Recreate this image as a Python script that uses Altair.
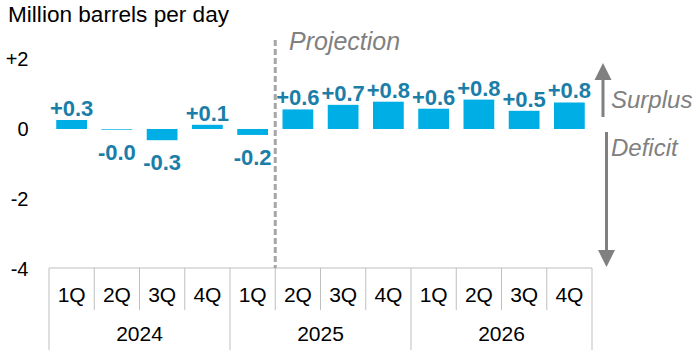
import altair as alt
import pandas as pd

# ---- data ----
years = ["2024"] * 4 + ["2025"] * 4 + ["2026"] * 4
quarters = ["1Q", "2Q", "3Q", "4Q"] * 3
balance = [0.26, -0.02, -0.32, 0.12, -0.17, 0.56, 0.69, 0.78, 0.58, 0.84, 0.52, 0.76]
year_labels = ["2024", "2025", "2026"]
projection_start = "2025-2Q"
y_ticks = [-4, -2, 0, 2]
title_text = "Million barrels per day"

keys = [f"{y}-{q}" for y, q in zip(years, quarters)]
df = pd.DataFrame({"key": keys, "year": years, "quarter": quarters, "value": balance})
df["label"] = [f"{v:+.1f}" for v in balance]
year_df = pd.DataFrame({"year": year_labels, "key": [f"{y}-2Q" for y in year_labels]})
end_df = pd.DataFrame({"key": [keys[-1]]})
proj_df = pd.DataFrame({"key": [projection_start], "text": ["Projection"]})

W, H = 543, 210
FONT = "Liberation Sans"
BAR = "#00AEE6"
LBL = "#1A7EA8"
GREY = "#808080"

xscale = alt.Scale(domain=keys, paddingInner=0, paddingOuter=0)
x_enc = alt.X("key:N", scale=xscale, axis=None)
x_start = alt.X("key:N", scale=xscale, axis=None, bandPosition=0)
x_end = alt.X("key:N", scale=xscale, axis=None, bandPosition=1)

y_axis = alt.Axis(
    values=y_ticks,
    labelExpr="datum.value > 0 ? '+' + datum.value : '' + datum.value",
    ticks=False, domain=False, grid=False, title=None,
    labelFontSize=20, labelFont=FONT, labelColor="#000000",
    labelPadding=21, labelFlush=False, labelOverlap=False,
)
y_enc = alt.Y("value:Q", scale=alt.Scale(domain=[-4, 2], nice=False), axis=y_axis)

bars = alt.Chart(df).mark_bar(color=BAR, width=alt.RelativeBandSize(0.68)).encode(
    x=x_enc, y=y_enc
)

pos_labels = alt.Chart(df).transform_filter("datum.value >= 0").mark_text(
    font=FONT, fontSize=22, fontWeight="bold", color=LBL, baseline="alphabetic", dy=-4
).encode(x=x_enc, y=y_enc, text="label:N")

neg_labels = alt.Chart(df).transform_filter("datum.value < 0").mark_text(
    font=FONT, fontSize=22, fontWeight="bold", color=LBL, baseline="top", dy=13
).encode(x=x_enc, y=y_enc, text="label:N")

# category axis (boxed)
SEP = "#BFBFBF"
AX_TOP = H - 1
axis_line = alt.Chart(end_df).mark_rule(color=SEP, strokeWidth=1).encode(
    x=alt.value(0), x2=alt.value(W), y=alt.value(AX_TOP), y2=alt.value(AX_TOP)
)
q_sep = alt.Chart(df).transform_filter("datum.quarter != '1Q'").mark_rule(
    color=SEP, strokeWidth=1
).encode(x=x_start, y=alt.value(AX_TOP), y2=alt.value(251))
y_sep = alt.Chart(df).transform_filter("datum.quarter == '1Q'").mark_rule(
    color=SEP, strokeWidth=1
).encode(x=x_start, y=alt.value(AX_TOP), y2=alt.value(300))
end_sep = alt.Chart(end_df).mark_rule(color=SEP, strokeWidth=1).encode(
    x=x_end, y=alt.value(AX_TOP), y2=alt.value(300)
)
q_text = alt.Chart(df).mark_text(
    font=FONT, fontSize=21, color="#000000", baseline="middle"
).encode(x=x_enc, y=alt.value(237), text="quarter:N")
yr_text = alt.Chart(year_df).mark_text(
    font=FONT, fontSize=21, color="#000000", baseline="middle"
).encode(x=x_end, y=alt.value(276), text="year:N")

# projection divider
proj_line = alt.Chart(proj_df).mark_rule(
    color="#A6A6A6", strokeWidth=3, strokeDash=[6, 3]
).encode(x=x_start, y=alt.value(-19), y2=alt.value(AX_TOP))
proj_text = alt.Chart(proj_df).mark_text(
    font=FONT, fontSize=25, fontStyle="italic", color=GREY, align="left", baseline="alphabetic"
).encode(x=alt.value(240), y=alt.value(-9), text="text:N")

# title
title = alt.Chart(pd.DataFrame({"text": [title_text]})).mark_text(
    font=FONT, fontSize=22.6, color="#000000", align="left", baseline="alphabetic"
).encode(x=alt.value(-41), y=alt.value(-37), text="text:N")

# surplus / deficit arrows
ann = pd.DataFrame({"text": ["Surplus", "Deficit"], "ypx": [49, 97]})
ann_text = alt.Chart(ann).mark_text(
    font=FONT, fontSize=24, fontStyle="italic", color=GREY, align="left", baseline="alphabetic"
).encode(x=alt.value(562), y=alt.Y("ypx:Q", scale=None), text="text:N")

one = pd.DataFrame({"a": [0]})
up_shaft = alt.Chart(one).mark_rule(color=GREY, strokeWidth=3).encode(
    x=alt.value(554), y=alt.value(17), y2=alt.value(58)
)
up_head = alt.Chart(one).mark_point(
    shape="M-1,1L0,-1L1,1Z", filled=True, size=289, color=GREY, opacity=1, strokeWidth=0
).encode(x=alt.value(554), y=alt.value(12.5))
dn_shaft = alt.Chart(one).mark_rule(color=GREY, strokeWidth=3).encode(
    x=alt.value(557.5), y=alt.value(73), y2=alt.value(192)
)
dn_head = alt.Chart(one).mark_point(
    shape="M-1,-1L0,1L1,-1Z", filled=True, size=289, color=GREY, opacity=1, strokeWidth=0
).encode(x=alt.value(557.5), y=alt.value(199.5))

chart = alt.layer(
    axis_line, q_sep, y_sep, end_sep, q_text, yr_text,
    proj_line, proj_text, title,
    bars, pos_labels, neg_labels,
    ann_text, up_shaft, up_head, dn_shaft, dn_head,
).properties(
    width=W, height=H,
    autosize=alt.AutoSizeParams(type="none"),
    padding={"left": 49, "top": 59, "right": 108, "bottom": 81},
).configure_view(stroke=None)

chart.save("out.html", embed_options={"renderer": "svg", "actions": False})
